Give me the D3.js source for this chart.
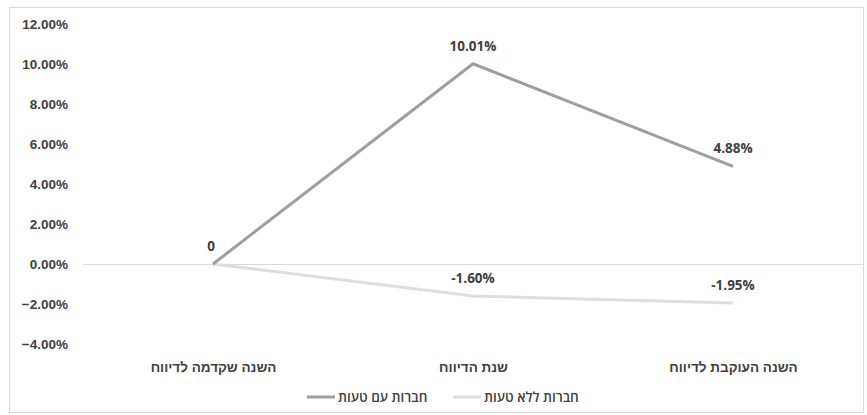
<!DOCTYPE html>
<html lang="he">
<head>
<meta charset="utf-8">
<script src="https://cdn.jsdelivr.net/npm/d3@7"></script>
<style>
  html, body { margin: 0; padding: 0; background: #fff; }
  svg { display: block; font-family: "Open Sans", "Noto Sans", sans-serif; }
</style>
</head>
<body>
<svg id="chart" width="867" height="415"></svg>
<script>
// Categories along the x axis (time relative to the reporting year)
const categories = ["השנה שקדמה לדיווח", "שנת הדיווח", "השנה העוקבת לדיווח"];
// Series values, in percent
const withError = [0, 10.01, 4.88];
const withoutError = [0, -1.60, -1.95];
// Data labels as printed next to each point
const withErrorLabels = ["0", "10.01%", "4.88%"];
const withoutErrorLabels = ["", "-1.60%", "-1.95%"];
// Y axis ticks
const yTicks = [-4, -2, 0, 2, 4, 6, 8, 10, 12];
const seriesNames = ["חברות עם טעות", "חברות ללא טעות"];
const seriesColors = ["#9c9e9f", "#dcdddd"];

const svg = d3.select("#chart");
const W = 867, H = 415;

// outer chart frame
svg.append("rect")
  .attr("x", 9.5).attr("y", 7.5)
  .attr("width", W - 13).attr("height", H - 10)
  .attr("fill", "#fff").attr("stroke", "#d9d9d9");

const x = d3.scalePoint().domain(categories).range([213, 733]);
const y = d3.scaleLinear().domain([-4, 12]).range([344, 24]);

// y axis labels
const yAxis = svg.append("g").attr("transform", "translate(68,0)")
  .call(d3.axisLeft(y).tickValues(yTicks).tickSize(0).tickPadding(0)
    .tickFormat(d => d3.format(".2f")(d) + "%"));
yAxis.select(".domain").remove();
yAxis.selectAll("text")
  .attr("fill", "#404040").attr("font-size", 13.5).attr("font-weight", "bold")
  .attr("dy", "0.35em");

// zero baseline
svg.append("line")
  .attr("x1", 83).attr("x2", 863)
  .attr("y1", y(0) + 0.5).attr("y2", y(0) + 0.5)
  .attr("stroke", "#d9d9d9").attr("stroke-width", 1);

// category labels
const xAxis = svg.append("g").attr("transform", "translate(0,362)")
  .call(d3.axisBottom(x).tickSize(0).tickPadding(0));
xAxis.select(".domain").remove();
xAxis.selectAll("text")
  .attr("fill", "#404040").attr("font-size", 13.5).attr("font-weight", "600")
  .attr("direction", "rtl");

const line = d3.line().x((d, i) => x(categories[i])).y(d => y(d));

// lighter series drawn first, darker on top
svg.append("path").datum(withoutError)
  .attr("d", line).attr("fill", "none")
  .attr("stroke", seriesColors[1]).attr("stroke-width", 3);
svg.append("path").datum(withError)
  .attr("d", line).attr("fill", "none")
  .attr("stroke", seriesColors[0]).attr("stroke-width", 3);

// data labels
const labelStyle = sel => sel.attr("fill", "#404040").attr("font-size", 13.5)
  .attr("font-weight", "bold").attr("text-anchor", "middle");

svg.append("g").selectAll("text").data(withError).join("text")
  .call(labelStyle)
  .attr("x", (d, i) => x(categories[i]) + (i === 0 ? -2 : 0))
  .attr("y", (d, i) => y(d) - 13)
  .text((d, i) => withErrorLabels[i]);

svg.append("g").selectAll("text").data(withoutError).join("text")
  .call(labelStyle)
  .attr("x", (d, i) => x(categories[i]))
  .attr("y", (d, i) => y(d) - 13)
  .text((d, i) => withoutErrorLabels[i]);

// legend
const legend = [
  { name: seriesNames[0], color: seriesColors[0], lx: 307 },
  { name: seriesNames[1], color: seriesColors[1], lx: 453 }
];
const lg = svg.append("g");
legend.forEach(item => {
  lg.append("line")
    .attr("x1", item.lx).attr("x2", item.lx + 28)
    .attr("y1", 397).attr("y2", 397)
    .attr("stroke", item.color).attr("stroke-width", 3);
  lg.append("text")
    .attr("x", item.lx + 31).attr("y", 397).attr("dy", "0.35em")
    .attr("direction", "rtl").attr("text-anchor", "end")
    .attr("fill", "#404040").attr("font-size", 13.5).attr("font-weight", "600")
    .text(item.name);
});
</script>
</body>
</html>
